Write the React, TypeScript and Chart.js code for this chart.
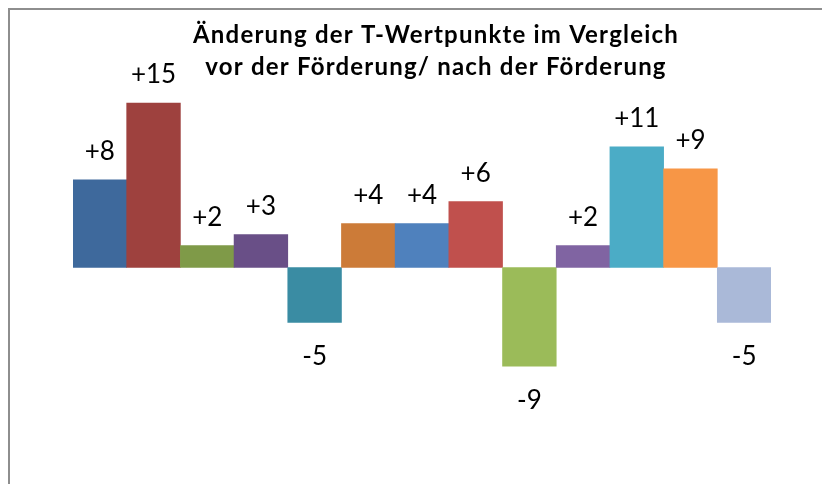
import React, { useEffect, useRef } from "react";
import { Chart, registerables } from "chart.js";

Chart.register(...registerables);

const titleLines = [
  "Änderung der T-Wertpunkte im Vergleich",
  "vor der Förderung/ nach der Förderung",
];
const categories = ["1", "2", "3", "4", "5", "6", "7", "8", "9", "10", "11", "12", "13"];
const values = [8, 15, 2, 3, -5, 4, 4, 6, -9, 2, 11, 9, -5];
const colors = [
  "#3E699C",
  "#9E413E",
  "#7F9A48",
  "#694F87",
  "#3A8CA3",
  "#CC7B38",
  "#4F81BD",
  "#C0504D",
  "#9BBB59",
  "#8064A2",
  "#4BACC6",
  "#F79646",
  "#AAB9D8",
];

const decorPlugin = {
  id: "decor",
  beforeDraw(chart: any) {
    const ctx = chart.ctx;
    ctx.save();
    ctx.fillStyle = "#ffffff";
    ctx.fillRect(0, 0, chart.width, chart.height);
    ctx.fillStyle = "#8e8e8e";
    ctx.fillRect(8, 8, 2, chart.height - 8);
    ctx.fillRect(8, 8, chart.width - 8, 2);
    ctx.restore();
  },
  afterDatasetsDraw(chart: any) {
    const ctx = chart.ctx;
    ctx.save();
    ctx.fillStyle = "#000000";
    ctx.textAlign = "center";
    ctx.textBaseline = "alphabetic";
    ctx.font = "bold 24px Lato";
    try {
      (ctx as any).letterSpacing = "1.2px";
    } catch (e) {}
    ctx.fillText(titleLines[0], 436, 43);
    ctx.fillText(titleLines[1], 436, 75);
    try {
      (ctx as any).letterSpacing = "0px";
    } catch (e) {}

    ctx.font = "26px Lato";
    const meta = chart.getDatasetMeta(0);
    meta.data.forEach((bar: any, i: number) => {
      const v = values[i];
      const txt = v > 0 ? "+" + v : String(v);
      if (v >= 0) {
        ctx.fillText(txt, bar.x, bar.y - 20);
      } else {
        ctx.fillText(txt, bar.x, bar.y + 43);
      }
    });
    ctx.restore();
  },
};

export default function App() {
  const ref = useRef<HTMLCanvasElement | null>(null);
  useEffect(() => {
    if (!ref.current) return;
    const chart = new Chart(ref.current, {
      type: "bar",
      data: {
        labels: categories,
        datasets: [
          {
            data: values,
            backgroundColor: colors,
            borderWidth: 0,
            categoryPercentage: 1,
            barPercentage: 1,
          },
        ],
      },
      options: {
        responsive: false,
        animation: false,
        layout: { padding: { left: 73, right: 51, top: 92, bottom: 41 } },
        plugins: {
          legend: { display: false },
          title: { display: false },
          tooltip: { enabled: false },
        },
        scales: {
          x: { display: false, grid: { display: false } },
          y: { display: false, min: -16, max: 16, grid: { display: false } },
        },
      },
      plugins: [decorPlugin],
    });
    return () => chart.destroy();
  }, []);
  return (
    <div style={{ position: "fixed", left: 0, top: 0, width: 822, height: 484 }}>
      <canvas ref={ref} width={822} height={484} style={{ display: "block" }} />
    </div>
  );
}
